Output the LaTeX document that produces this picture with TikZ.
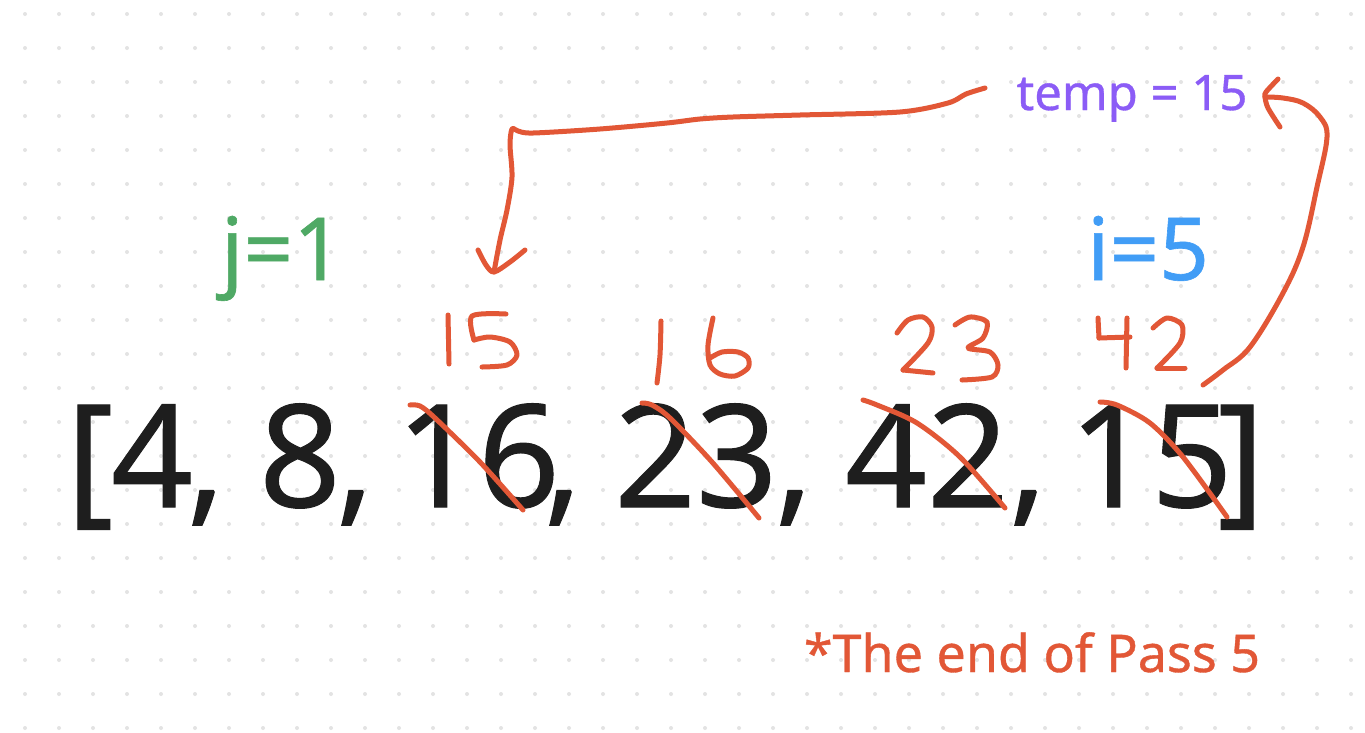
\documentclass[tikz,border=0pt]{standalone}
\usepackage{fontspec}
\setmainfont{Noto Sans}[FakeBold=0.7]
\definecolor{ink}{HTML}{1E1E1E}
\definecolor{pen}{HTML}{E25736}
\definecolor{jgreen}{HTML}{4FA965}
\definecolor{iblue}{HTML}{419DF6}
\definecolor{tpurple}{HTML}{8B5CF6}
\definecolor{griddot}{HTML}{E3E3E3}
\begin{document}
\begin{tikzpicture}[x=1pt,y=-1pt,
  arr/.style={font=\fontsize{143}{150}\selectfont, text=ink, anchor=base, inner sep=0pt},
  idx/.style={font=\fontsize{87}{95}\selectfont, anchor=base, inner sep=0pt},
  tmp/.style={font=\fontsize{49}{55}\selectfont, text=tpurple, anchor=base, inner sep=0pt},
  note/.style={font=\fontsize{52}{58}\selectfont, text=pen, anchor=base, inner sep=0pt},
  hand/.style={draw=pen, line width=5pt, line cap=round, line join=round}]
\useasboundingbox (0,0) rectangle (1365,732);
\fill[white] (0,0) rectangle (1365,732);
% dot grid
\foreach \i in {0,...,39}{
  \foreach \j in {0,...,21}{
    \fill[griddot] (25+34*\i,14+34*\j) circle (2);
  }
}
% array
\node[arr] (lb) at (90,507) {[};
\node[arr] (n4) at (152,507) {4};
\node[arr] (c1) at (206,507) {,};
\node[arr] (n8) at (300,507) {8};
\node[arr] (c2) at (355,507) {,};
\node[arr] (n16) at (478,507) {16};
\node[arr] (c3) at (563,507) {,};
\node[arr] (n23) at (696,507) {23};
\node[arr] (c4) at (794,507) {,};
\node[arr] (n42) at (927,507) {42};
\node[arr] (c5) at (1028,507) {,};
\node[arr] (n15) at (1151,507) {15};
\node[arr] (rb) at (1241,507) {]};
% labels
\node[idx, text=jgreen] (jlab) at (282,280) {j=1};
\node[idx, text=iblue] (ilab) at (1148,280) {i=5};
\node[tmp] (temp) at (1132,110) {temp = 15};
\node[note] (end) at (1032,672) {*The end of Pass 5};
% strike-throughs
\draw[hand] plot[smooth] coordinates {(410,405) (420,406) (435,418) (480,462) (523,510)};
\draw[hand] plot[smooth] coordinates {(642,403) (652,405) (670,418) (712,462) (759,518)};
\draw[hand] plot[smooth] coordinates {(863,400) (877,405) (917,423) (960,457) (1005,508)};
\draw[hand] plot[smooth] coordinates {(1100,402) (1117,405) (1150,423) (1183,457) (1227,517)};
% handwritten 15
\draw[hand] (448,315) -- (449,364);
\draw[hand] plot[smooth] coordinates {(506,314) (472,316) (474,340)};
\draw[hand] plot[smooth] coordinates {(474,340) (490,337) (510,342) (517,355) (507,365) (482,367)};
% handwritten 16
\draw[hand] plot[smooth] coordinates {(661,321) (660,355) (657,383)};
\draw[hand] plot[smooth] coordinates {(713,318) (708,345) (710,365) (720,374) (735,376) (748,368) (748,358) (738,352) (722,352) (710,358)};
% handwritten 23
\draw[hand] plot[smooth] coordinates {(897,333) (908,320) (923,317) (932,327) (928,343) (903,370)};
\draw[hand] (903,370) -- (933,373);
\draw[hand] plot[smooth] coordinates {(955,325) (970,317) (987,322) (983,338) (968,348) (990,352) (998,365) (992,377) (962,380)};
% handwritten 42
\draw[hand] plot[smooth] coordinates {(1098,318) (1099,338)};
\draw[hand] (1099,338) -- (1130,337);
\draw[hand] (1127,318) -- (1126,368);
\draw[hand] plot[smooth] coordinates {(1153,328) (1167,318) (1182,325) (1180,343) (1157,368)};
\draw[hand] (1157,368) -- (1185,368);
% connectors
\coordinate (tempW) at (985,88);
\coordinate (up16) at (494,272);
\coordinate (from15) at (1203,385);
\coordinate (tempE) at (1265,97);
\draw[hand] plot[smooth, tension=0.5] coordinates {(tempW) (966,94) (948,103) (900,112) (800,115) (733,117) (700,119) (667,123) (600,129) (533,133) (518,131) (512,129) (510,145) (512,177) (507,210) (500,240) (up16)};
\draw[hand] plot[smooth, tension=0.5] coordinates {(478,250) (486,265) (up16) (510,262) (525,250)};
\draw[hand] plot[smooth, tension=0.6] coordinates {(from15) (1223,370) (1250,347) (1283,293) (1303,247) (1317,187) (1327,137) (1320,117) (1303,103) (1283,98) (tempE)};
\draw[hand] plot[smooth, tension=0.5] coordinates {(1278,79) (1266,92) (tempE) (1268,108) (1280,127)};
\end{tikzpicture}
\end{document}
